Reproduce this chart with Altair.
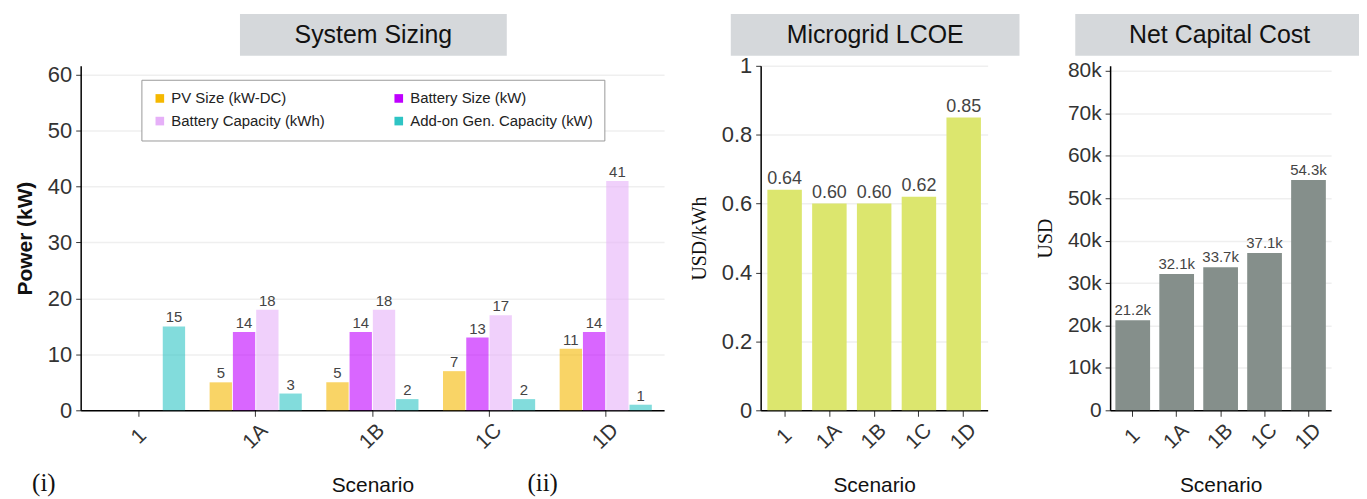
import altair as alt
import pandas as pd

scenarios = ["1", "1A", "1B", "1C", "1D"]
series = ["PV Size (kW-DC)", "Battery Size (kW)", "Battery Capacity (kWh)", "Add-on Gen. Capacity (kW)"]
legend_order = ["PV Size (kW-DC)", "Battery Capacity (kWh)", "Battery Size (kW)", "Add-on Gen. Capacity (kW)"]
pv = [0, 5, 5, 7, 11]
bsize = [0, 14, 14, 13, 14]
bcap = [0, 18, 18, 17, 41]
addon = [15, 3, 2, 2, 1]
lcoe = [0.64, 0.60, 0.60, 0.62, 0.85]
netcap = [21200, 32100, 33700, 37100, 54300]
netcap_labels = ["21.2k", "32.1k", "33.7k", "37.1k", "54.3k"]
color_map = {"PV Size (kW-DC)": "#F5B800", "Battery Size (kW)": "#BF00FF",
             "Battery Capacity (kWh)": "#E6B0F8", "Add-on Gen. Capacity (kW)": "#2EC4C4"}

NARROW = "Liberation Sans Narrow, Liberation Sans, Arial"
SANS = "Liberation Sans, Arial"
SERIF = "Liberation Serif, Times New Roman"

rows = []
for s, vals in zip(series, [pv, bsize, bcap, addon]):
    for sc, v in zip(scenarios, vals):
        rows.append({"Scenario": sc, "Series": s, "Value": v, "Label": str(v) if v > 0 else ""})
df1 = pd.DataFrame(rows)
df2 = pd.DataFrame({"Scenario": scenarios, "LCOE": lcoe, "Label": [f"{v:.2f}" for v in lcoe]})
df3 = pd.DataFrame({"Scenario": scenarios, "Cost": netcap, "Label": netcap_labels})

H = 346


def xaxis():
    return alt.Axis(title="Scenario", labelAngle=-45, labelAlign="center", labelBaseline="middle",
                    labelPadding=20, labelFont=NARROW, labelFontSize=21, labelColor="#333",
                    titleFont=SANS, titleFontSize=21, titleFontWeight="normal", titleColor="#111",
                    titlePadding=22, domainColor="#000", domainWidth=1.5, tickColor="#333",
                    tickSize=6, grid=False)


def title_box(text, x0, x1, wdt_center):
    d = pd.DataFrame({"t": [text]})
    box = alt.Chart(d).mark_rect(color="#D5D8DB").encode(
        x=alt.value(x0), x2=alt.value(x1), y=alt.value(-52), y2=alt.value(-10))
    txt = alt.Chart(d).mark_text(font=SANS, fontSize=25, color="#111").encode(
        x=alt.value(wdt_center), y=alt.value(-31), text="t:N")
    return box, txt


# Panel 1: System Sizing
x1 = alt.X("Scenario:N", sort=scenarios, scale=alt.Scale(paddingInner=0.21, paddingOuter=0.105), axis=xaxis())
xo = alt.XOffset("Series:N", sort=series, scale=alt.Scale(paddingInner=0.04))
y1 = alt.Y("Value:Q", scale=alt.Scale(domain=[0, 61.6], nice=False),
           axis=alt.Axis(values=[0, 10, 20, 30, 40, 50, 60], title="Power (kW)", titleFont=SANS,
                         titleFontSize=21, titleFontWeight=600, titleColor="#111", titlePadding=12,
                         labelFont=NARROW, labelFontSize=22, labelColor="#333"))
bars1 = alt.Chart(df1).mark_bar(opacity=0.6).encode(
    x=x1, xOffset=xo, y=y1,
    color=alt.Color("Series:N", sort=legend_order,
                    scale=alt.Scale(domain=legend_order, range=[color_map[s] for s in legend_order]),
                    legend=alt.Legend(title=None, orient="none", legendX=61, legendY=14, columns=2,
                                      symbolType="square", symbolSize=75, symbolOpacity=1,
                                      symbolStrokeWidth=0, labelFont=SANS, labelFontSize=15,
                                      labelColor="#222", labelLimit=0, columnPadding=66,
                                      rowPadding=7, padding=11, strokeColor="#999",
                                      fillColor="white")))
text1 = alt.Chart(df1).transform_filter("datum.Label != ''").mark_text(
    dy=-9, font=NARROW, fontSize=15, color="#444").encode(x=x1, xOffset=xo, y=y1, text="Label:N")
b1, t1 = title_box("System Sizing", 160, 428, 294)
ann = pd.DataFrame({"t": ["(i)", "(ii)"], "px": [-37, 464]})
ann1 = alt.Chart(ann).mark_text(font=SERIF, fontSize=25, color="#111").encode(
    x=alt.X("px:Q", scale=None), y=alt.value(419), text="t:N")
p1 = alt.layer(bars1, text1, b1, t1, ann1).properties(width=586, height=H)

# Panel 2: Microgrid LCOE
x2 = alt.X("Scenario:N", sort=scenarios, scale=alt.Scale(paddingInner=0.23, paddingOuter=0.15), axis=xaxis())
y2 = alt.Y("LCOE:Q", scale=alt.Scale(domain=[0, 1], nice=False),
           axis=alt.Axis(values=[0, 0.2, 0.4, 0.6, 0.8, 1], title="USD/kWh", titleFont=SERIF,
                         titleFontSize=20, titleFontWeight="normal", titleColor="#111",
                         titlePadding=12, labelFont=NARROW, labelFontSize=22, labelColor="#333",
                         labelExpr="datum.value == 1 ? '1' : datum.value == 0 ? '0' : format(datum.value, '.1f')"))
bars2 = alt.Chart(df2).mark_bar(color="#DCE66E", opacity=1).encode(x=x2, y=y2)
text2 = alt.Chart(df2).mark_text(dy=-11, font=NARROW, fontSize=18, color="#444").encode(x=x2, y=y2, text="Label:N")
b2, t2 = title_box("Microgrid LCOE", -30, 260, 115)
p2 = alt.layer(bars2, text2, b2, t2).properties(width=228, height=H)

# Panel 3: Net Capital Cost
x3 = alt.X("Scenario:N", sort=scenarios, scale=alt.Scale(paddingInner=0.21, paddingOuter=0.12), axis=xaxis())
y3 = alt.Y("Cost:Q", scale=alt.Scale(domain=[0, 81200], nice=False),
           axis=alt.Axis(values=[0, 10000, 20000, 30000, 40000, 50000, 60000, 70000, 80000],
                         title="USD", titleFont=SERIF, titleFontSize=20, titleFontWeight="normal",
                         titleColor="#111", titlePadding=12, labelFont=NARROW, labelFontSize=21,
                         labelColor="#333",
                         labelExpr="datum.value == 0 ? '0' : format(datum.value / 1000, 'd') + 'k'"))
bars3 = alt.Chart(df3).mark_bar(color="#858F8B").encode(x=x3, y=y3)
text3 = alt.Chart(df3).mark_text(dy=-10, font=NARROW, fontSize=15, color="#444").encode(x=x3, y=y3, text="Label:N")
b3, t3 = title_box("Net Capital Cost", -35, 250, 110)
p3 = alt.layer(bars3, text3, b3, t3).properties(width=222, height=H)

chart = alt.hconcat(p1, alt.hconcat(p2, p3, spacing=16), spacing=25).properties(
    padding={"left": 6, "top": 5, "right": 0, "bottom": 0}
).configure_view(stroke=None).configure_axisY(
    grid=True, gridColor="#EFEFEF", gridWidth=1.5, domainColor="#000", domainWidth=1.5,
    tickColor="#333", tickSize=5, labelPadding=4
)

chart.save("out.html", embed_options={"renderer": "svg", "actions": False})
